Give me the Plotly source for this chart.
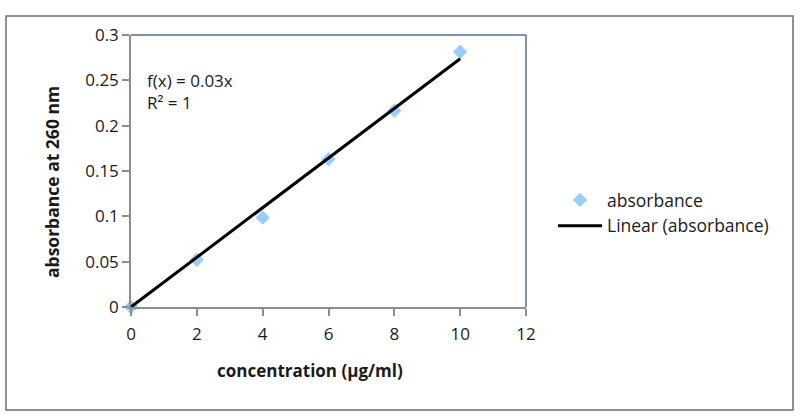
import numpy as np
import plotly.graph_objects as go

concentration = [0, 2, 4, 6, 8, 10]
absorbance = [0.0, 0.052, 0.0985, 0.163, 0.2165, 0.2815]
x_ticks = [0, 2, 4, 6, 8, 10, 12]
y_ticks = [0, 0.05, 0.1, 0.15, 0.2, 0.25, 0.3]
y_tick_labels = ["0", "0.05", "0.1", "0.15", "0.2", "0.25", "0.3"]

xa = np.array(concentration, dtype=float)
ya = np.array(absorbance, dtype=float)
slope = float((xa * ya).sum() / (xa * xa).sum())
fit_x = [min(concentration), max(concentration)]
fit_y = [slope * v for v in fit_x]

FONT = "Open Sans"
TXT = "#1a1a1a"
W, H = 800, 416
L, R, T, B = 131, 274, 35, 109
pw, ph = W - L - R, H - T - B

def px(x):
    return (x - L) / pw

def py(y):
    return (H - B - y) / ph

fig = go.Figure()
fig.add_trace(go.Scatter(
    x=concentration, y=absorbance, mode="markers", name="absorbance",
    marker=dict(symbol="diamond", size=11, color="#99CCFF"),
    cliponaxis=False,
))
fig.add_trace(go.Scatter(
    x=fit_x, y=fit_y, mode="lines", name="Linear (absorbance)",
    line=dict(color="black", width=3), cliponaxis=False,
))

fig.update_layout(
    width=W, height=H,
    margin=dict(l=L, r=R, t=T, b=B),
    paper_bgcolor="white", plot_bgcolor="white",
    font=dict(family=FONT, size=16, color=TXT),
    showlegend=True,
    legend=dict(
        x=px(553), y=py(182), xanchor="left", yanchor="top",
        font=dict(family=FONT, size=17.5, color=TXT),
        itemwidth=44, bgcolor="rgba(0,0,0,0)",
    ),
    xaxis=dict(
        range=[0, 12], tickvals=x_ticks, ticktext=[str(v) for v in x_ticks],
        showgrid=False, zeroline=False, showline=True, linecolor="#8c8c8c",
        linewidth=1.5, ticks="outside", ticklen=7, tickcolor="#8c8c8c",
        tickwidth=1.5, ticklabelstandoff=4,
        tickfont=dict(family=FONT, size=17, color=TXT),
    ),
    yaxis=dict(
        range=[0, 0.3], tickvals=y_ticks, ticktext=y_tick_labels,
        showgrid=False, zeroline=False, showline=True, linecolor="#8c8c8c",
        linewidth=1.5, ticks="outside", ticklen=7, tickcolor="#8c8c8c",
        tickwidth=1.5, tickfont=dict(family=FONT, size=17, color=TXT),
    ),
    shapes=[
        dict(type="line", xref="paper", yref="paper", x0=0, x1=1, y0=1, y1=1,
             line=dict(color="#4f6f9a", width=1.5)),
        dict(type="line", xref="paper", yref="paper", x0=1, x1=1, y0=0, y1=1,
             line=dict(color="#4f6f9a", width=1.5)),
        dict(type="rect", xref="paper", yref="paper",
             x0=px(6), x1=px(793), y0=py(410), y1=py(16),
             line=dict(color="#6e6e6e", width=1.5), layer="below"),
    ],
    annotations=[
        dict(text="f(x) = 0.03x<br>R² = 1", xref="paper", yref="paper",
             x=px(145), y=py(67), xanchor="left", yanchor="top", align="left",
             showarrow=False, font=dict(family=FONT, size=17, color=TXT)),
        dict(text="<b>concentration (µg/ml)</b>", xref="paper", yref="paper",
             x=px(310), y=py(370), xanchor="center", yanchor="middle",
             showarrow=False, font=dict(family=FONT, size=17, color=TXT)),
        dict(text="<b>absorbance at 260 nm</b>", xref="paper", yref="paper",
             x=px(52), y=py(182), xanchor="center", yanchor="middle",
             textangle=-90, showarrow=False,
             font=dict(family=FONT, size=17.5, color=TXT)),
    ],
)

fig.write_html("out.html")
